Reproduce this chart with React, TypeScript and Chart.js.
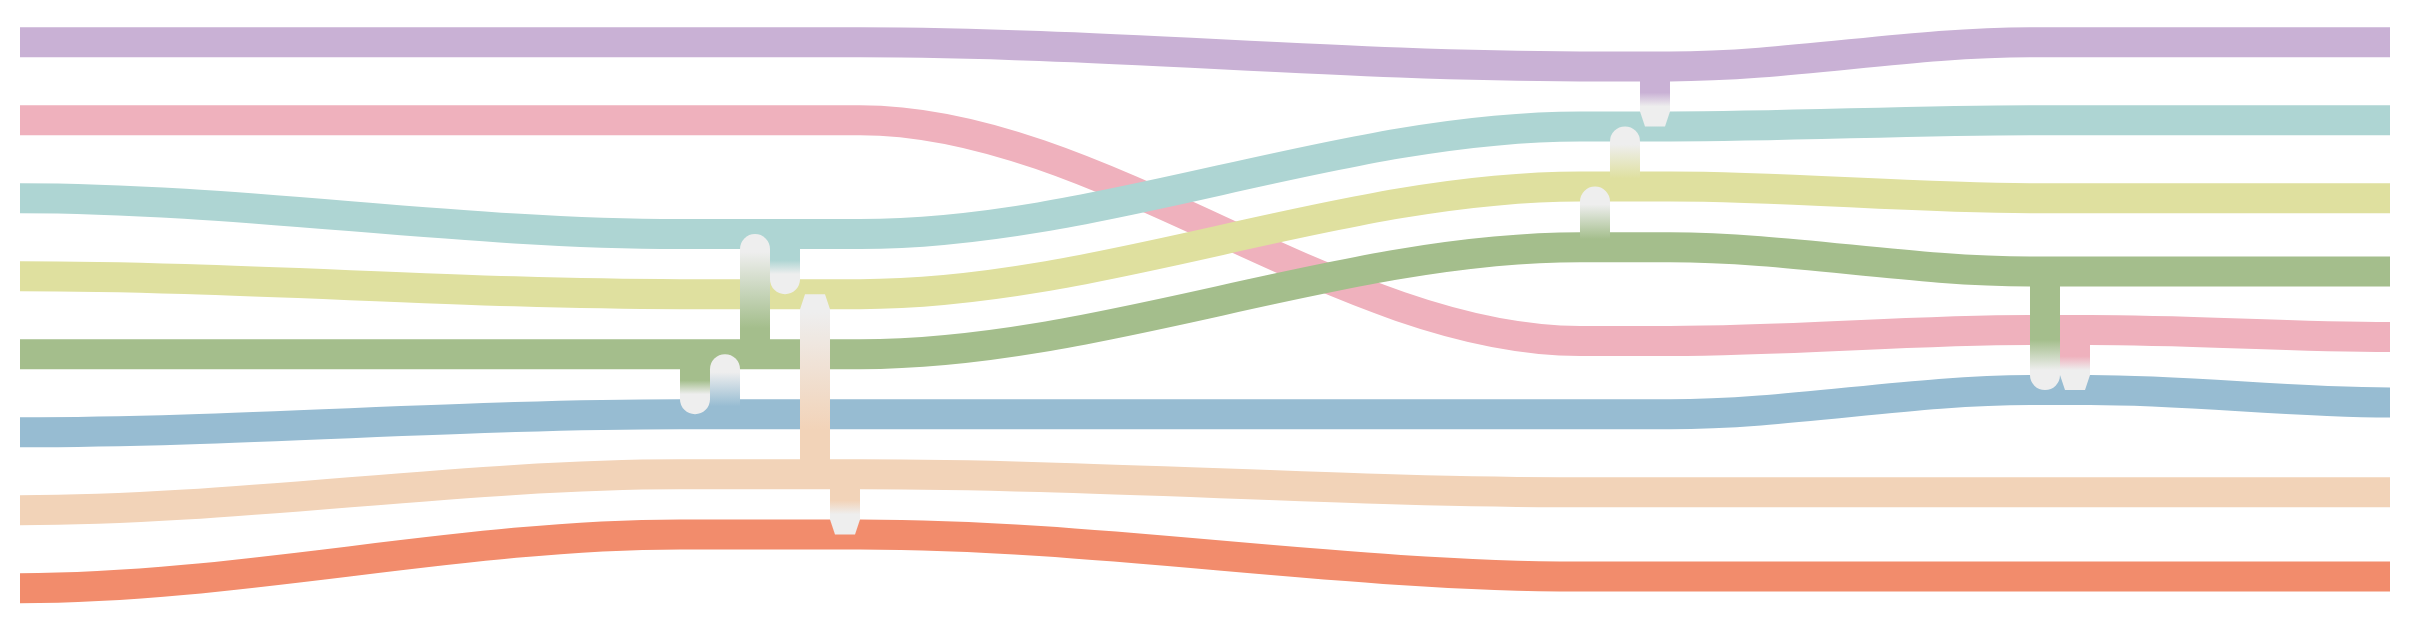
import React, { useEffect, useRef } from "react";
import { Chart, registerables } from "chart.js";

Chart.register(...registerables);

// x positions where each line holds a lane (lines ease between them)
const steps = [0, 22, 28, 52, 55, 67, 69, 79];

const seriesNames = ["Purple", "Pink", "Teal", "Yellow", "Green", "Blue", "Peach", "Orange"];
const purple = [0, 0, 0, 0.31, 0.31, 0, 0, 0];
const pink = [1, 1, 1, 3.83, 3.83, 3.69, 3.69, 3.78];
const teal = [2, 2.46, 2.46, 1.08, 1.08, 1, 1, 1];
const yellow = [3, 3.23, 3.23, 1.85, 1.85, 2, 2, 2];
const green = [4, 4, 4, 2.63, 2.63, 2.94, 2.94, 2.94];
const blue = [5, 4.77, 4.77, 4.77, 4.77, 4.46, 4.46, 4.62];
const peach = [6, 5.54, 5.54, 5.77, 5.77, 5.77, 5.77, 5.77];
const orange = [7, 6.31, 6.31, 6.85, 6.85, 6.85, 6.85, 6.85];
const seriesValues = [purple, pink, teal, yellow, green, blue, peach, orange];

const seriesColors = ["#c9b1d5", "#efb1bd", "#aed5d3", "#dfe09f", "#a4be8c", "#97bcd2", "#f2d3b8", "#f28c6c"];

// vertical links between lines
const linkX = [22.5, 23.5, 24.5, 25.5, 26.5, 27.5, 52.5, 53.5, 54.5, 67.5, 68.5];
const linkFrom = ["Green", "Blue", "Green", "Teal", "Peach", "Peach", "Green", "Yellow", "Purple", "Green", "Pink"];
const linkTo = ["Blue", "Green", "Teal", "Yellow", "Yellow", "Orange", "Yellow", "Teal", "Teal", "Blue", "Blue"];
const linkEnd = ["round", "round", "round", "round", "chamfer", "chamfer", "round", "round", "chamfer", "round", "chamfer"];

const END_GREY = "#eeeeee";

const valueAt = (values: number[], xv: number) => {
  for (let i = 0; i < steps.length - 1; i++) {
    if (xv >= steps[i] && xv <= steps[i + 1]) {
      const t = (xv - steps[i]) / (steps[i + 1] - steps[i]);
      return values[i] + (values[i + 1] - values[i]) * t;
    }
  }
  return values[values.length - 1];
};

const clamp = (v: number) => Math.min(1, Math.max(0, v));

const linksPlugin = {
  id: "links",
  afterDatasetsDraw(chart: any) {
    const { ctx } = chart;
    const xs = chart.scales.x;
    const ys = chart.scales.y;
    ctx.save();
    linkX.forEach((cx, i) => {
      const from = seriesNames.indexOf(linkFrom[i]);
      const to = seriesNames.indexOf(linkTo[i]);
      const color = seriesColors[from];
      const s = ys.getPixelForValue(valueAt(seriesValues[from], cx));
      const e = ys.getPixelForValue(valueAt(seriesValues[to], cx));
      const left = xs.getPixelForValue(cx - 0.5);
      const right = xs.getPixelForValue(cx + 0.5);
      const half = (right - left) / 2;
      const mid = left + half;
      const dir = e > s ? 1 : -1;
      const len = Math.abs(e - s);

      let colorStop: number;
      let greyStop: number;
      if (dir > 0) {
        colorStop = (0.72 * len - 17) / len;
        greyStop = (len - 20) / len;
      } else {
        colorStop = (0.3 * len - 10) / len;
        greyStop = (len - 18) / len;
      }
      const grad = ctx.createLinearGradient(0, s, 0, e);
      grad.addColorStop(0, color);
      grad.addColorStop(clamp(colorStop), color);
      grad.addColorStop(clamp(greyStop), END_GREY);
      grad.addColorStop(1, END_GREY);

      const neck = e - dir * half;
      ctx.beginPath();
      ctx.moveTo(left, s);
      ctx.lineTo(left, neck);
      if (linkEnd[i] === "round") {
        ctx.arc(mid, neck, half, Math.PI, 0, dir > 0);
      } else {
        const inset = half / 3;
        ctx.lineTo(left + inset, e);
        ctx.lineTo(right - inset, e);
        ctx.lineTo(right, neck);
      }
      ctx.lineTo(right, s);
      ctx.closePath();
      ctx.fillStyle = grad;
      ctx.fill();
    });
    ctx.restore();
  },
};

const App = () => {
  const chartRef = useRef<HTMLCanvasElement>(null);
  const chartInstance = useRef<any>(null);

  useEffect(() => {
    if (!chartRef.current) return;
    if (chartInstance.current) chartInstance.current.destroy();

    const first = steps[0];
    const last = steps[steps.length - 1];
    const datasets = seriesNames.map((name, i) => {
      const vals = seriesValues[i];
      // hold the end values just past the edges so the lines start and end level
      const pts = [
        { x: first - 1, y: vals[0] },
        ...steps.map((s, j) => ({ x: s, y: vals[j] })),
        { x: last + 1, y: vals[vals.length - 1] },
      ];
      return {
        label: name,
        data: pts,
        borderColor: seriesColors[i],
        backgroundColor: seriesColors[i],
        borderWidth: 30,
        borderCapStyle: "butt",
        cubicInterpolationMode: "monotone",
        pointRadius: 0,
        pointHoverRadius: 0,
        fill: false,
        clip: { left: 0, right: 0, top: false, bottom: false },
        // pink sits beneath the lines it crosses
        order: name === "Pink" ? 1 : 0,
      };
    });

    chartInstance.current = new Chart(chartRef.current, {
      type: "line",
      data: { datasets } as any,
      options: {
        animation: false,
        responsive: true,
        maintainAspectRatio: false,
        events: [],
        layout: { padding: { left: 12, right: 16, top: 3, bottom: 12.6 } },
        plugins: { legend: { display: false }, tooltip: { enabled: false } },
        scales: {
          x: { type: "linear", min: 0, max: 79, display: false },
          y: { type: "linear", min: -0.4, max: 7.4, reverse: true, display: false },
        },
      },
      plugins: [linksPlugin],
    });

    return () => {
      if (chartInstance.current) {
        chartInstance.current.destroy();
        chartInstance.current = null;
      }
    };
  }, []);

  return (
    <div style={{ position: "relative", width: "2398px", height: "624px" }}>
      <canvas ref={chartRef} />
    </div>
  );
};

export default App;
